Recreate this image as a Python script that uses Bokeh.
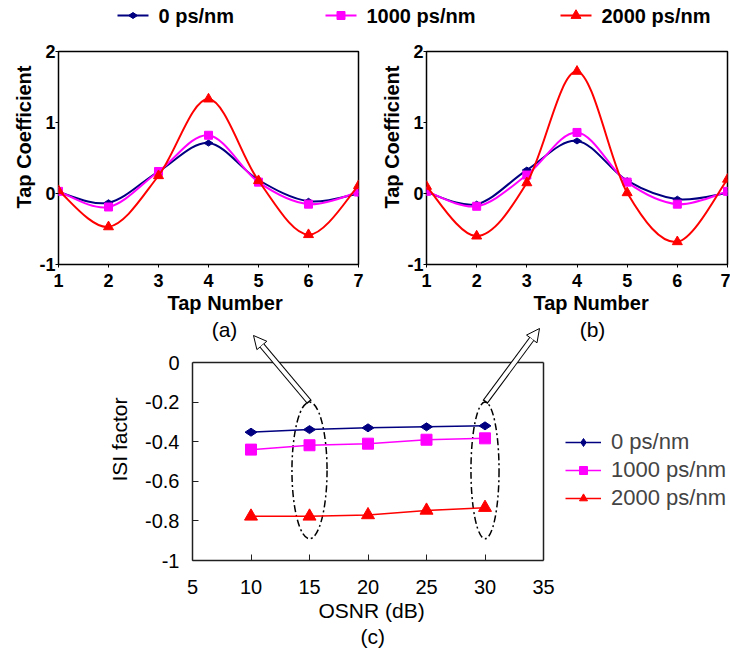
import numpy as np
from bokeh.plotting import figure
from bokeh.models import (Range1d, Legend, LegendItem, Label, Arrow, NormalHead,
                          Title, FixedTicker)
from bokeh.layouts import column, row
from bokeh.embed import file_html
from bokeh.resources import INLINE
from bokeh.core.properties import value

# ---------------- data ----------------
series_labels = ["0 ps/nm", "1000 ps/nm", "2000 ps/nm"]
colors = ["#000080", "#FF00FF", "#FF0000"]
markers = ["diamond", "square", "triangle"]

tap_number = [1, 2, 3, 4, 5, 6, 7]
taps_a_0 = [0.02, -0.13, 0.31, 0.71, 0.19, -0.11, 0.00]
taps_a_1000 = [0.03, -0.19, 0.31, 0.82, 0.16, -0.15, 0.02]
taps_a_2000 = [0.04, -0.47, 0.25, 1.33, 0.18, -0.58, 0.11]
taps_b_0 = [0.02, -0.15, 0.33, 0.74, 0.18, -0.08, 0.01]
taps_b_1000 = [0.03, -0.18, 0.26, 0.86, 0.16, -0.15, 0.03]
taps_b_2000 = [0.10, -0.60, 0.15, 1.72, 0.01, -0.68, 0.20]

osnr = [10, 15, 20, 25, 30]
isi_0 = [-0.352, -0.339, -0.330, -0.325, -0.320]
isi_1000 = [-0.440, -0.418, -0.410, -0.390, -0.383]
isi_2000 = [-0.777, -0.777, -0.770, -0.747, -0.733]

tap_y_ticks = [-1, 0, 1, 2]
tap_y_labels = ["-1", "0", "1", "2"]
isi_y_ticks = [-1, -0.8, -0.6, -0.4, -0.2, 0]
isi_y_labels = ["-1", "-0.8", "-0.6", "-0.4", "-0.2", "0"]
osnr_ticks = [5, 10, 15, 20, 25, 30, 35]

highlight_osnr = [15, 30]
highlight_width = [3.0, 2.4]
highlight_top = -0.2
highlight_bottom = -0.89
panel_tags = ["(a)", "(b)"]

FONT = "Liberation Sans"
W = 730


def smooth_parts(xs, ys, t=1.0 / 6.0):
    x = np.asarray(xs, float)
    y = np.asarray(ys, float)
    n = len(x)
    xp = np.concatenate([[x[0]], x, [x[-1]]])
    yp = np.concatenate([[y[0]], y, [y[-1]]])
    return dict(
        x0=x[:-1], y0=y[:-1], x1=x[1:], y1=y[1:],
        cx0=x[:-1] + (xp[2:n + 1] - xp[0:n - 1]) * t,
        cy0=y[:-1] + (yp[2:n + 1] - yp[0:n - 1]) * t,
        cx1=x[1:] - (xp[3:n + 2] - xp[1:n]) * t,
        cy1=y[1:] - (yp[3:n + 2] - yp[1:n]) * t,
    )


def style_ax(ax, size, bold, color="black"):
    ax.minor_tick_line_color = None
    ax.major_tick_line_color = color
    ax.major_label_text_font = FONT
    ax.major_label_text_font_size = size
    ax.major_label_text_font_style = "bold" if bold else "normal"
    ax.major_label_text_color = "black"


def tap_figure(width, bl, br, series, xlab_offset):
    p = figure(width=width, height=280, x_range=Range1d(1, 7), y_range=Range1d(-1, 2),
               output_backend="svg", toolbar_location=None,
               min_border_left=bl, min_border_right=br, min_border_top=13, min_border_bottom=54)
    p.grid.visible = False
    p.outline_line_color = "black"
    p.outline_line_width = 1.5
    sizes = [9, 8, 10]
    for ys, c, m, s in zip(series, colors, markers, sizes):
        p.bezier(**smooth_parts(tap_number, ys), line_color=c, line_width=2)
        p.scatter(tap_number, ys, marker=m, size=s, color=c,
                  angle=(np.pi / 2 if m == "diamond" else 0))
    p.xaxis.ticker = FixedTicker(ticks=tap_number)
    p.yaxis.ticker = FixedTicker(ticks=tap_y_ticks)
    p.yaxis.major_label_overrides = dict(zip(tap_y_ticks, tap_y_labels))
    for ax in (p.xaxis[0], p.yaxis[0]):
        ax.axis_line_color = None
        ax.major_tick_out = 3
        ax.major_tick_in = 0
        style_ax(ax, "18px", True)
    p.xaxis.major_label_standoff = 6
    p.yaxis.major_label_standoff = 0
    p.add_layout(Title(text="Tap Coefficient", align="left", offset=56, text_font=FONT,
                       text_font_size="20px", text_font_style="bold", text_color="black",
                       standoff=4), "left")
    p.add_layout(Title(text="Tap Number", align="left", offset=xlab_offset, text_font=FONT,
                       text_font_size="20px", text_font_style="bold", text_color="black",
                       standoff=0), "below")
    return p


# ---------------- top legend (drawn as swatches) ----------------
pl = figure(width=W, height=38, x_range=Range1d(0, W), y_range=Range1d(0, 38),
            output_backend="svg", toolbar_location=None, min_border=0,
            x_axis_location=None, y_axis_location=None)
pl.outline_line_color = None
pl.grid.visible = False
key_x = [117, 325, 560]
key_len = 31
key_y = 23
for lab, c, m, s, kx in zip(series_labels, colors, markers, [9, 8, 10], key_x):
    pl.line(x=[kx, kx + key_len], y=[key_y, key_y], line_color=c, line_width=2)
    pl.scatter(x=[kx + key_len / 2], y=[key_y], marker=m, size=s, color=c,
               angle=(np.pi / 2 if m == "diamond" else 0))
    pl.text(x=[kx + key_len + 10], y=[key_y], text=[lab], text_font=value(FONT),
            text_font_size="20px", text_font_style="bold", text_baseline="middle",
            text_color="black")

# ---------------- (a) and (b) ----------------
pa = tap_figure(366, 58, 8, [taps_a_0, taps_a_1000, taps_a_2000], 109)
pb = tap_figure(364, 60, 3, [taps_b_0, taps_b_1000, taps_b_2000], 107)

# ---------------- (c) ----------------
C_LEFT = 192          # frame left (px)
C_TOP = 318           # figure / frame top (px, page)
Y0 = 362              # pixel row of ISI = 0
Y1 = 560              # pixel row of ISI = -1 (frame bottom)
sx = 351 / 30.0       # px per dB
sy = (Y1 - Y0) / 1.0  # px per ISI unit
x_end = 5 + (W - C_LEFT) / sx
y_top = (Y0 - C_TOP) / sy

pc = figure(width=W, height=(Y1 - C_TOP) + 90, x_range=Range1d(5, x_end),
            y_range=Range1d(-1, y_top),
            output_backend="svg", toolbar_location=None,
            min_border_left=C_LEFT, min_border_right=0,
            min_border_top=0, min_border_bottom=90)
pc.grid.visible = False
pc.outline_line_color = None


def px_to_data(px, py):
    return 5 + (px - C_LEFT) / sx, -(py - Y0) / sy


# axes box: left and bottom from the axis lines, top/right as segments
box_x0, box_x1 = osnr_ticks[0], osnr_ticks[-1]
box_y0, box_y1 = isi_y_ticks[0], isi_y_ticks[-1]
pc.segment(x0=[box_x0, box_x1], y0=[box_y1, box_y0], x1=[box_x1, box_x1], y1=[box_y1, box_y1],
           line_color="#202020", line_width=1.5)

pc.ellipse(x=highlight_osnr, y=[(highlight_top + highlight_bottom) / 2] * 2,
           width=highlight_width, height=[highlight_top - highlight_bottom] * 2,
           fill_alpha=0, line_color="black", line_width=1.5, line_dash="7 3 2 3")

c_items = []
for ys, lab, c, m, s in zip([isi_0, isi_1000, isi_2000], series_labels, colors, markers, [12, 11, 13]):
    lr = pc.line(osnr, ys, line_color=c, line_width=1.5)
    sr = pc.scatter(osnr, ys, marker=m, size=s, color=c,
                    angle=(np.pi / 2 if m == "diamond" else 0))
    c_items.append(LegendItem(label=lab, renderers=[lr, sr]))

c_legend = Legend(items=c_items, location=(373, 49), glyph_width=36, glyph_height=20,
                  label_standoff=10, spacing=2, padding=0, margin=0,
                  border_line_color=None, background_fill_alpha=0,
                  label_text_font=FONT, label_text_font_size="22px")
pc.add_layout(c_legend, "center")

pc.xaxis.ticker = FixedTicker(ticks=osnr_ticks)
pc.yaxis.ticker = FixedTicker(ticks=isi_y_ticks)
pc.yaxis.major_label_overrides = dict(zip(isi_y_ticks, isi_y_labels))
pc.xaxis.bounds = (box_x0, box_x1)
pc.yaxis.bounds = (box_y0, box_y1)
for ax in (pc.xaxis[0], pc.yaxis[0]):
    ax.axis_line_color = "#202020"
    ax.axis_line_width = 1.5
    ax.major_tick_out = 0
    ax.major_tick_in = 6
    style_ax(ax, "20px", False, "#202020")
    ax.axis_label_text_font = FONT
    ax.axis_label_text_font_size = "21px"
    ax.axis_label_text_font_style = "normal"
    ax.axis_label_text_color = "black"
pc.yaxis.axis_label = "ISI factor"
pc.xaxis.major_label_standoff = 19
pc.yaxis.major_label_standoff = 13
pc.yaxis.axis_label_standoff = 11
pc.add_layout(Title(text="OSNR (dB)", align="left", offset=126, text_font=FONT,
                    text_font_size="21px", text_font_style="normal", text_color="black",
                    standoff=1), "below")
pc.add_layout(Title(text="(c)", align="left", offset=168, text_font=FONT,
                    text_font_size="21px", text_font_style="normal", text_color="black",
                    standoff=0), "below")

# hollow arrows from the highlighted OSNR points up to panels (a) and (b)
arrow_tips_px = [(253, 335), (539, 328)]
for hx, (tpx, tpy) in zip(highlight_osnr, arrow_tips_px):
    xe, ye = px_to_data(tpx, tpy)
    xs, ys_ = hx, highlight_top
    dxp, dyp = (xe - xs) * sx, (ye - ys_) * sy
    L = np.hypot(dxp, dyp)
    xs2 = xs + dxp / L * 1.5 / sx
    ys2 = ys_ + dyp / L * 1.5 / sy
    pc.add_layout(Arrow(x_start=xs, y_start=ys_, x_end=xe, y_end=ye,
                        line_color="black", line_width=6,
                        end=NormalHead(size=13, line_color="black", line_width=1,
                                       fill_color="white")))
    pc.add_layout(Arrow(x_start=xs2, y_start=ys2, x_end=xe, y_end=ye,
                        line_color="white", line_width=4,
                        end=NormalHead(size=13, line_alpha=0, fill_alpha=0)))

# panel tags (a), (b)
for tag, (tx, ty) in zip(panel_tags, [(224, 329), (592, 329)]):
    lx, ly = px_to_data(tx, ty)
    pc.add_layout(Label(x=lx, y=ly, text=tag, text_align="center", text_baseline="middle",
                        text_font=FONT, text_font_size="21px", text_color="black"))

layout = column(row(pl), row(pa, pb), row(pc))
open("out.html", "w").write(file_html(layout, INLINE))
